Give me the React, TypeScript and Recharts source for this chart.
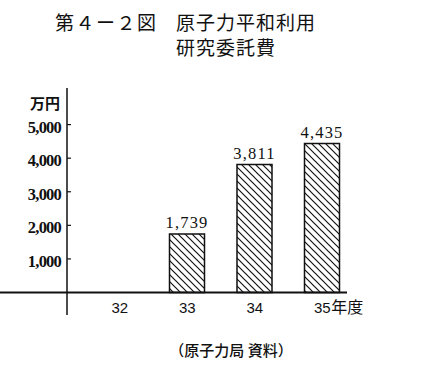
import React from "react";
import { BarChart, Bar, XAxis, YAxis, ReferenceLine, LabelList } from "recharts";

const years = ["32", "33", "34", "35"];
const budget: (number | null)[] = [null, 1739, 3811, 4435];
const yTicks = [1000, 2000, 3000, 4000, 5000];
const lastUnit = "年度";

const data = years.map((year, i) => ({ year, value: budget[i] }));

const fmt = (v: number) => v.toLocaleString("en-US");

const serif = "'Liberation Serif', 'DejaVu Serif', serif";
const cjk = "'Noto Sans CJK JP', sans-serif";

function YTick(props: any) {
  const { x, y, payload } = props;
  return (
    <g>
      <text
        x={x}
        y={y}
        dy={8}
        textAnchor="end"
        fontFamily={serif}
        fontWeight="bold"
        fontSize={16.5}
        letterSpacing={-0.8}
        fill="#111"
      >
        {fmt(payload.value)}
      </text>
      <line x1={x + 6} x2={x + 10} y1={y} y2={y} stroke="#111" strokeWidth={1.2} />
    </g>
  );
}

function XTick(props: any) {
  const { x, y, payload, index } = props;
  const isLast = index === years.length - 1;
  return (
    <g>
      <text
        x={x}
        y={y - 2}
        textAnchor="middle"
        fontFamily="'Liberation Sans', Arial, sans-serif"
        fontSize={15}
        fill="#111"
      >
        {payload.value}
      </text>
      {isLast && (
        <text x={x + 9} y={y - 2} fontFamily={cjk} fontSize={16} fill="#111">
          {lastUnit}
        </text>
      )}
    </g>
  );
}

function ValueLabel(props: any) {
  const { x, y, width, value } = props;
  if (value == null) return null;
  return (
    <text
      x={x + width / 2}
      y={y - 6}
      textAnchor="middle"
      fontFamily={serif}
      fontSize={16.5}
      letterSpacing={1.2}
      fill="#111"
    >
      {fmt(value)}
    </text>
  );
}

// baseline runs out to the left edge of the figure
function Baseline(props: any) {
  const { y1, y2, x2 } = props;
  return <line x1={0} y1={y1} x2={x2} y2={y2} stroke="#111" strokeWidth={1.8} />;
}

export default function App() {
  return (
    <div
      style={{
        position: "absolute",
        left: 0,
        top: 0,
        width: 439,
        height: 367,
        background: "#fff",
        color: "#111",
      }}
    >
      <div style={{ position: "absolute", left: 55, top: 9, fontFamily: cjk, fontSize: 19, letterSpacing: 1.5, lineHeight: "26px" }}>
        第４ー２図
      </div>
      <div style={{ position: "absolute", left: 176, top: 9, fontFamily: cjk, fontSize: 19, letterSpacing: 1, lineHeight: "26px" }}>
        原子力平和利用
      </div>
      <div style={{ position: "absolute", left: 176, top: 34, fontFamily: cjk, fontSize: 19, letterSpacing: 1, lineHeight: "26px" }}>
        研究委託費
      </div>
      <div
        style={{
          position: "absolute",
          left: 30,
          top: 94,
          fontFamily: cjk,
          fontWeight: 700,
          fontSize: 15,
          lineHeight: "18px",
        }}
      >
        万円
      </div>

      <BarChart
        width={439}
        height={367}
        data={data}
        margin={{ top: 88, right: 92, bottom: 22, left: 0 }}
        style={{ position: "absolute", left: 0, top: 0 }}
      >
        <defs>
          <pattern id="hatch" patternUnits="userSpaceOnUse" width={7} height={7}>
            <path d="M0,0 L7,7 M-1,6 L1,8 M6,-1 L8,1" stroke="#111" strokeWidth={1.2} />
          </pattern>
        </defs>
        <XAxis
          dataKey="year"
          axisLine={false}
          tickLine={false}
          tickSize={0}
          tickMargin={0}
          height={30}
          padding={{ left: 19, right: -9 }}
          tick={<XTick />}
          interval={0}
        />
        <YAxis
          width={67}
          domain={[-670, 6090]}
          ticks={yTicks}
          tickSize={0}
          tickMargin={6}
          tickLine={false}
          axisLine={{ stroke: "#111", strokeWidth: 1.5 }}
          tick={<YTick />}
          interval={0}
        />
        <ReferenceLine y={0} shape={<Baseline />} />
        <Bar
          dataKey="value"
          barSize={35}
          fill="url(#hatch)"
          stroke="#111"
          strokeWidth={1.5}
          isAnimationActive={false}
        >
          <LabelList dataKey="value" content={<ValueLabel />} />
        </Bar>
      </BarChart>

      <div
        style={{
          position: "absolute",
          left: 0,
          width: 462,
          top: 341,
          textAlign: "center",
          fontFamily: cjk,
          fontWeight: 500,
          fontSize: 15,
          lineHeight: "18px",
        }}
      >
        （原子力局 資料）
      </div>
    </div>
  );
}
